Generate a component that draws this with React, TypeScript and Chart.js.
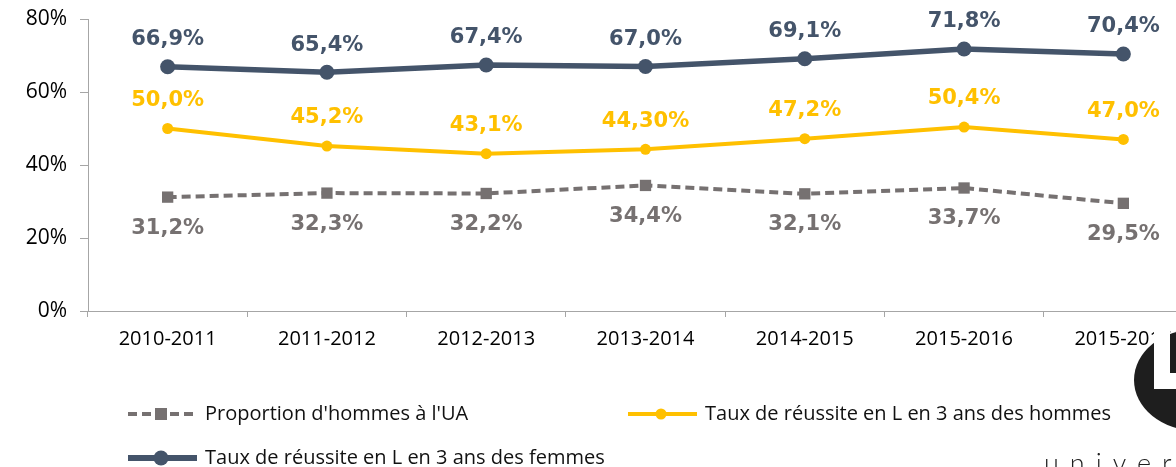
import React, { useEffect, useRef } from "react";
import { Chart, registerables } from "chart.js";

Chart.register(...registerables);

const categories = ["2010-2011", "2011-2012", "2012-2013", "2013-2014", "2014-2015", "2015-2016", "2015-2016"];

const proportionHommes = [31.2, 32.3, 32.2, 34.4, 32.1, 33.7, 29.5];
const reussiteHommes = [50.0, 45.2, 43.1, 44.3, 47.2, 50.4, 47.0];
const reussiteFemmes = [66.9, 65.4, 67.4, 67.0, 69.1, 71.8, 70.4];

const proportionLabels = ["31,2%", "32,3%", "32,2%", "34,4%", "32,1%", "33,7%", "29,5%"];
const hommesLabels = ["50,0%", "45,2%", "43,1%", "44,30%", "47,2%", "50,4%", "47,0%"];
const femmesLabels = ["66,9%", "65,4%", "67,4%", "67,0%", "69,1%", "71,8%", "70,4%"];

const seriesNames = [
  "Proportion d'hommes à l'UA",
  "Taux de réussite en L en 3 ans des hommes",
  "Taux de réussite en L en 3 ans des femmes",
];

const GRAY = "#767171";
const YELLOW = "#ffc000";
const NAVY = "#44546a";
const AXIS = "#a6a6a6";

const labelSets = [proportionLabels, hommesLabels, femmesLabels];
const labelOffsets = [31, -28, -27];

const dataLabelPlugin = {
  id: "dataLabels",
  afterDatasetsDraw(chart: any) {
    const ctx = chart.ctx;
    ctx.save();
    ctx.font = 'bold 21px "DejaVu Sans"';
    ctx.textAlign = "center";
    ctx.textBaseline = "middle";
    chart.data.datasets.forEach((ds: any, i: number) => {
      const meta = chart.getDatasetMeta(i);
      ctx.fillStyle = ds.borderColor;
      meta.data.forEach((el: any, j: number) => {
        ctx.fillText(labelSets[i][j], el.x, el.y + labelOffsets[i]);
      });
    });
    ctx.restore();
  },
};

const legendPlugin = {
  id: "customLegend",
  afterDraw(chart: any) {
    const ctx = chart.ctx;
    const items = [
      { ds: 0, x: 128, y: 414, lw: 4, dash: [9, 5], marker: "rect", r: 7 },
      { ds: 1, x: 628, y: 414, lw: 4, dash: [], marker: "circle", r: 5.5 },
      { ds: 2, x: 128, y: 458, lw: 6, dash: [], marker: "circle", r: 7.5 },
    ];
    ctx.save();
    items.forEach((it) => {
      const ds = chart.data.datasets[it.ds];
      ctx.strokeStyle = ds.borderColor;
      ctx.lineWidth = it.lw;
      ctx.setLineDash(it.dash);
      ctx.beginPath();
      ctx.moveTo(it.x, it.y);
      ctx.lineTo(it.x + 69, it.y);
      ctx.stroke();
      ctx.setLineDash([]);
      ctx.fillStyle = ds.borderColor;
      const cx = it.x + 33;
      if (it.marker === "rect") {
        ctx.fillRect(cx - 6, it.y - 6, 12, 12);
      } else {
        ctx.beginPath();
        ctx.arc(cx, it.y, it.r, 0, Math.PI * 2);
        ctx.fill();
      }
      ctx.fillStyle = "#111";
      ctx.font = '20px "Open Sans"';
      ctx.textAlign = "left";
      ctx.textBaseline = "middle";
      ctx.fillText(seriesNames[it.ds], it.x + 77, it.y);
    });
    ctx.restore();
  },
};

const logoPlugin = {
  id: "logo",
  afterDraw(chart: any) {
    const ctx = chart.ctx;
    ctx.save();
    ctx.fillStyle = "#1e1e1e";
    ctx.beginPath();
    ctx.ellipse(1197, 380, 63, 51, 0, 0, Math.PI * 2);
    ctx.fill();
    ctx.fillStyle = "#ffffff";
    ctx.fillRect(1154, 320, 16, 69);
    ctx.fillRect(1154, 373, 40, 16);
    ctx.fillStyle = "#1e1e1e";
    ctx.font = '300 27px "Lato"';
    ctx.textAlign = "left";
    ctx.textBaseline = "alphabetic";
    (ctx as any).letterSpacing = "11px";
    ctx.fillText("université", 1044, 473);
    ctx.restore();
  },
};

export default function App() {
  const canvasRef = useRef<HTMLCanvasElement | null>(null);

  useEffect(() => {
    if (!canvasRef.current) return;
    const chart = new Chart(canvasRef.current, {
      type: "line",
      data: {
        labels: categories,
        datasets: [
          {
            label: seriesNames[0],
            data: proportionHommes,
            borderColor: GRAY,
            backgroundColor: GRAY,
            borderWidth: 4,
            borderDash: [9, 5],
            pointStyle: "rect",
            pointRadius: 8,
            pointBorderWidth: 0,
            tension: 0,
          },
          {
            label: seriesNames[1],
            data: reussiteHommes,
            borderColor: YELLOW,
            backgroundColor: YELLOW,
            borderWidth: 4,
            pointStyle: "circle",
            pointRadius: 5.5,
            pointBorderWidth: 0,
            tension: 0,
          },
          {
            label: seriesNames[2],
            data: reussiteFemmes,
            borderColor: NAVY,
            backgroundColor: NAVY,
            borderWidth: 5.5,
            pointStyle: "circle",
            pointRadius: 7.5,
            pointBorderWidth: 0,
            tension: 0,
          },
        ],
      },
      options: {
        responsive: false,
        animation: false,
        devicePixelRatio: 1,
        layout: { padding: { top: 19, left: 0, right: 0, bottom: 0 } },
        plugins: {
          legend: { display: false },
          tooltip: { enabled: false },
        },
        scales: {
          x: {
            offset: true,
            grid: {
              offset: true,
              drawOnChartArea: false,
              drawTicks: true,
              tickLength: 6,
              color: AXIS,
            },
            border: { display: true, color: AXIS, width: 1 },
            ticks: {
              color: "#000",
              font: { family: "Open Sans", size: 20 },
              padding: 10,
              maxRotation: 0,
              autoSkip: false,
            },
            afterFit: (scale: any) => {
              scale.height = 156;
              scale.paddingLeft = 0;
              scale.paddingRight = 0;
            },
          },
          y: {
            min: 0,
            max: 80,
            grid: {
              drawOnChartArea: false,
              drawTicks: true,
              tickLength: 8,
              color: AXIS,
            },
            border: { display: true, color: AXIS, width: 1 },
            ticks: {
              stepSize: 20,
              color: "#000",
              font: { family: "Open Sans", size: 21 },
              padding: 13,
              callback: (v: any) => `${v}%`,
            },
            afterFit: (scale: any) => {
              scale.width = 88;
              scale.paddingTop = 0;
              scale.paddingBottom = 0;
            },
          },
        },
      },
      plugins: [dataLabelPlugin, legendPlugin, logoPlugin],
    });
    return () => chart.destroy();
  }, []);

  return (
    <div
      style={{
        position: "absolute",
        left: 0,
        top: 0,
        width: 1176,
        height: 467,
        overflow: "hidden",
        background: "#fff",
      }}
    >
      <canvas ref={canvasRef} width={1211} height={467} style={{ display: "block" }} />
    </div>
  );
}
